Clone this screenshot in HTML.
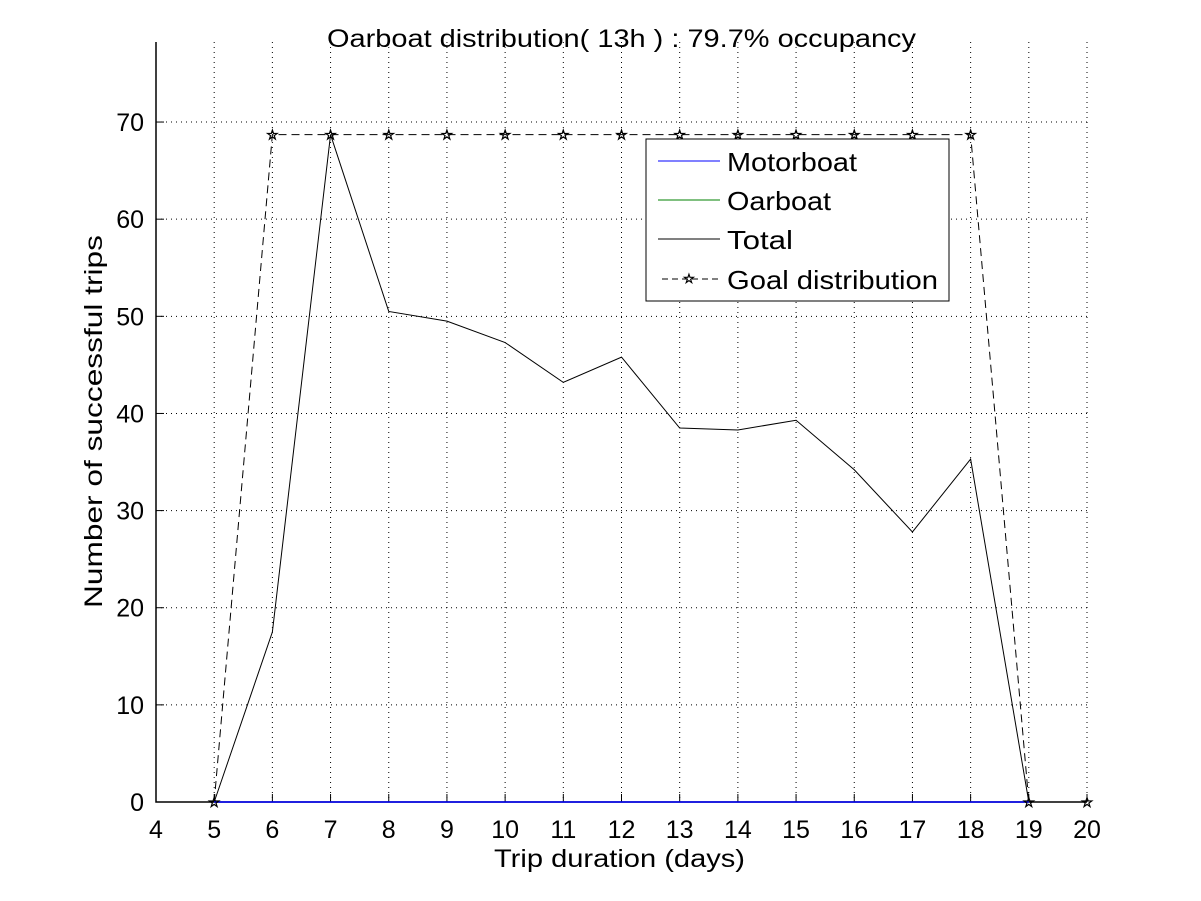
<!DOCTYPE html>
<html><head><meta charset="utf-8"><style>
body{margin:0;background:#fff;}
svg{display:block;font-family:"Liberation Sans",Arial,sans-serif;}
</style></head><body>
<svg id="chart" width="1201" height="901" xmlns="http://www.w3.org/2000/svg">
<rect width="1201" height="901" fill="#fff"/>
<text x="327" y="47" font-size="25" textLength="589" lengthAdjust="spacingAndGlyphs">Oarboat distribution( 13h ) : 79.7% occupancy</text>
<text x="494" y="867" font-size="25" textLength="251" lengthAdjust="spacingAndGlyphs">Trip duration (days)</text>
<text transform="translate(102,608) rotate(-90)" font-size="25" textLength="373" lengthAdjust="spacingAndGlyphs">Number of successful trips</text>
<g id="grid"></g><g id="ticks"></g><g id="series"></g>
<g>
<rect x="646" y="139" width="303" height="162" fill="#fff" stroke="#000" stroke-width="1"/>
<line x1="658" y1="161" x2="720" y2="161" stroke="#0000ff"/>
<text x="727" y="171" font-size="26" textLength="130" lengthAdjust="spacingAndGlyphs">Motorboat</text>
<line x1="658" y1="200" x2="720" y2="200" stroke="#008000"/>
<text x="727" y="210" font-size="26" textLength="104" lengthAdjust="spacingAndGlyphs">Oarboat</text>
<line x1="658" y1="239" x2="720" y2="239" stroke="#000"/>
<text x="727" y="249" font-size="26" textLength="66" lengthAdjust="spacingAndGlyphs">Total</text>
<line x1="662" y1="279" x2="720" y2="279" stroke="#000" stroke-dasharray="6,4"/>
<text x="689" y="283" font-size="13" text-anchor="middle" fill="#fff" stroke="#000" stroke-width="0.8">☆</text>
<text x="727" y="289" font-size="26" textLength="211" lengthAdjust="spacingAndGlyphs">Goal distribution</text>
</g>
</svg>
<script>
const days=[5,6,7,8,9,10,11,12,13,14,15,16,17,18,19];
const motorboat=[0,0,0,0,0,0,0,0,0,0,0,0,0,0,0];
const oarboat=[0,0,0,0,0,0,0,0,0,0,0,0,0,0,0];
const total=[0,17.5,68.7,50.5,49.5,47.3,43.2,45.8,38.5,38.3,39.3,34.2,27.8,35.3,0];
const goalDays=[5,6,7,8,9,10,11,12,13,14,15,16,17,18,19,20];
const goal=[0,68.7,68.7,68.7,68.7,68.7,68.7,68.7,68.7,68.7,68.7,68.7,68.7,68.7,0,0];
const xTicks=[4,5,6,7,8,9,10,11,12,13,14,15,16,17,18,19,20];
const yTicks=[0,10,20,30,40,50,60,70];
const L=156,R=1087,T=42,B=802,xmin=4,xmax=20,ymin=0,ymax=78.24;
const X=v=>L+(v-xmin)/(xmax-xmin)*(R-L);
const Y=v=>B-(v-ymin)/(ymax-ymin)*(B-T);
const NS='http://www.w3.org/2000/svg';
function mk(tag,at,parent){const e=document.createElementNS(NS,tag);for(const k in at)e.setAttribute(k,at[k]);document.getElementById(parent).appendChild(e);return e;}
xTicks.forEach(t=>{
 if(t>xmin){const g=mk('line',{x1:X(t),x2:X(t),y1:T,y2:B,stroke:'#000','stroke-dasharray':'1,4','stroke-width':1},'grid');
 
 }
 const tk=mk('line',{x1:X(t),x2:X(t),y1:B,y2:B-8,stroke:'#000'},'ticks');
 
 
 const l=mk('text',{x:X(t),y:B+36,'font-size':25,'text-anchor':'middle'},'ticks');l.textContent=t;
 
 
});
yTicks.forEach(t=>{
 if(t>ymin){const g=mk('line',{x1:L,x2:R,y1:Y(t),y2:Y(t),stroke:'#000','stroke-dasharray':'1,4','stroke-width':1},'grid');
 
 }
 const tk=mk('line',{x1:L,x2:L+8,y1:Y(t),y2:Y(t),stroke:'#000'},'ticks');
 
 
 const l=mk('text',{x:L-12,y:Y(t)+9,'font-size':25,'text-anchor':'end'},'ticks');l.textContent=t;
 
 
});
const ax=mk('path',{d:`M${L},${T}V${B}H${R}`,fill:'none',stroke:'#000','stroke-width':1.5},'ticks');


function pts(xs,ys){return xs.map((d,i)=>X(d)+','+Y(ys[i])).join(' ');}
const g1=mk('polyline',{points:pts(goalDays,goal),fill:'none',stroke:'#000','stroke-dasharray':'8,5'},'series');


const t1=mk('polyline',{points:pts(days,total),fill:'none',stroke:'#000'},'series');


const o1=mk('polyline',{points:pts(days,oarboat),fill:'none',stroke:'#008000'},'series');


const m1=mk('polyline',{points:pts(days,motorboat),fill:'none',stroke:'#0000ff','stroke-width':1.5},'series');


goalDays.forEach((d,i)=>{
 const s=mk('text',{x:X(d),y:Y(goal[i])+5,'font-size':14,'text-anchor':'middle',fill:'#fff',stroke:'#000','stroke-width':0.8},'series');
 s.textContent='☆';
 
 
});
</script>
</body></html>
